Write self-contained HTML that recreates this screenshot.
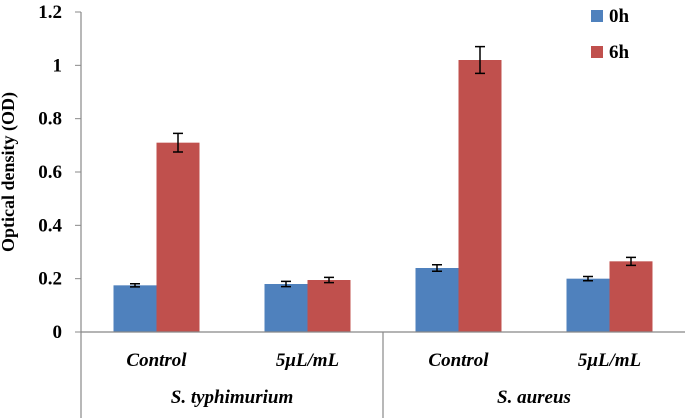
<!DOCTYPE html>
<html><head><meta charset="utf-8"><style>
body{margin:0;background:#fff}
svg{display:block;font-family:"Liberation Serif",serif}
</style></head><body>
<svg id="c" width="685" height="418">
<text transform="translate(14,172) rotate(-90)" text-anchor="middle" font-size="18" font-weight="bold">Optical density (OD)</text>
<g id="leg">
<rect x="591" y="10" width="12" height="12" fill="#4f81bd"/>
<text x="609" y="22" font-size="19" font-weight="bold">0h</text>
<rect x="591" y="46" width="12" height="12" fill="#c0504d"/>
<text x="609" y="58" font-size="19" font-weight="bold">6h</text>
</g>
</svg>
<script>
const categories=["Control","5μL/mL","Control","5μL/mL"];
const groups=["S. typhimurium","S. aureus"];
const series0h=[0.175,0.18,0.24,0.2];
const err0h=[0.006,0.01,0.012,0.008];
const series6h=[0.71,0.195,1.02,0.265];
const err6h=[0.035,0.01,0.05,0.015];
const yTicks=[0,0.2,0.4,0.6,0.8,1,1.2];
const yTickLabels=["0","0.2","0.4","0.6","0.8","1","1.2"];
const svg=document.getElementById('c');
const NS='http://www.w3.org/2000/svg';
const x0=81,catW=151,y0=332,yTop=12,yMax=1.2;
const y=v=>y0-(v/yMax)*(y0-yTop);
const cx=i=>x0+catW*(i+0.5);
function mk(t,a,p){const e=document.createElementNS(NS,t);for(const k in a)e.setAttribute(k,a[k]);(p||svg).appendChild(e);return e;}
yTicks.forEach((v,i)=>{
 const t=mk('text',{x:62,y:y(v)+6,'text-anchor':'end','font-size':19,'font-weight':'bold'});
 
 
 t.textContent=yTickLabels[i];
 const l=mk('line',{x1:75,x2:x0,y1:y(v),y2:y(v),stroke:'#888'});
 
 
});
const bw=43;
[[series0h,err0h,'#4f81bd',-1,'0h'],[series6h,err6h,'#c0504d',0,'6h']].forEach(([s,er,col,off,nm])=>{
 s.forEach((v,i)=>{
  const bx=cx(i)+off*bw;
  const r=mk('rect',{x:bx,y:y(v),width:bw,height:y0-y(v),fill:col});
  
  
  const m=bx+bw/2,t=y(v+er[i]),b=y(v-er[i]);
  const g=mk('path',{d:`M${m} ${t}V${b}M${m-5} ${t}H${m+5}M${m-5} ${b}H${m+5}`,stroke:'#000','stroke-width':1.5,fill:'none'});
  
  
 });
});
const ax=mk('path',{d:`M${x0} ${yTop}V418M${x0} ${y0}H685M${x0+catW*2} ${y0}V418`,stroke:'#888','stroke-width':1.2,fill:'none'});


categories.forEach((c,i)=>{
 const t=mk('text',{x:cx(i),y:366,'text-anchor':'middle','font-size':19,'font-weight':'bold','font-style':'italic'});
 
 
 t.textContent=c;
});
groups.forEach((g,i)=>{
 const t=mk('text',{x:x0+catW*(2*i+1),y:403,'text-anchor':'middle','font-size':19,'font-weight':'bold','font-style':'italic'});
 
 
 t.textContent=g;
});
</script>
</body></html>
